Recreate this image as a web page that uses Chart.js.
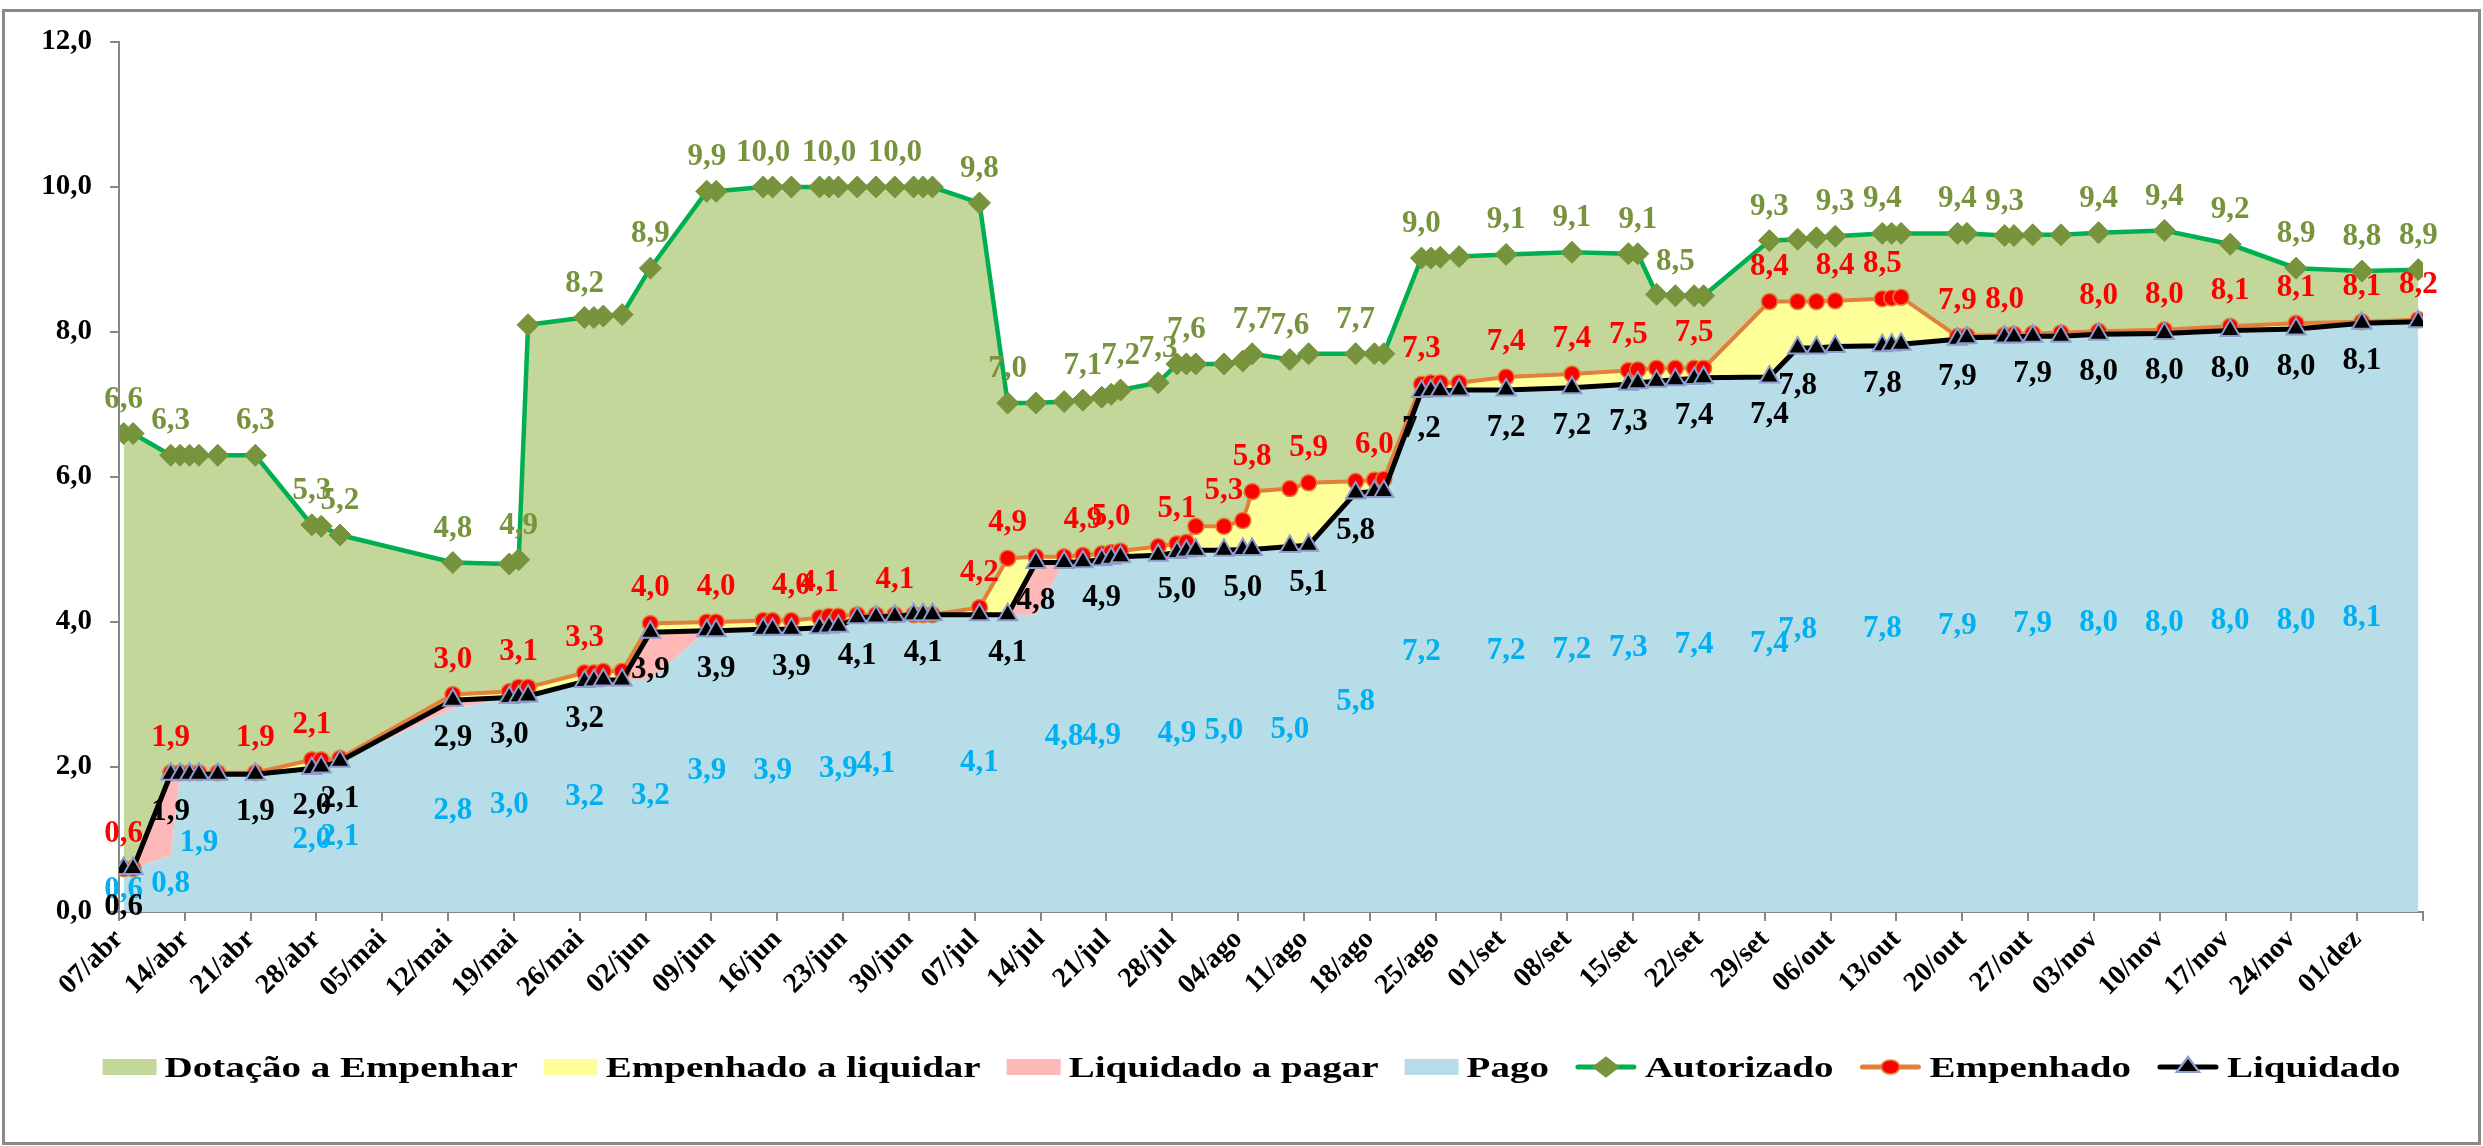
<!DOCTYPE html>
<html>
<head>
<meta charset="utf-8">
<script src="https://cdn.jsdelivr.net/npm/chart.js@4.4.1/dist/chart.umd.min.js"></script>
<style>
html,body{margin:0;padding:0;background:#fff;overflow:hidden}
#wrap{width:2483px;height:1146px;position:relative}
</style>
</head>
<body>
<div id="wrap"><canvas id="c"></canvas></div>
<script>
// ---- Dados ----
const rotulosX = ['07/abr','14/abr','21/abr','28/abr','05/mai','12/mai','19/mai','26/mai','02/jun','09/jun','16/jun','23/jun','30/jun','07/jul','14/jul','21/jul','28/jul','04/ago','11/ago','18/ago','25/ago','01/set','08/set','15/set','22/set','29/set','06/out','13/out','20/out','27/out','03/nov','10/nov','17/nov','24/nov','01/dez'];
const rotulosY = [0, 2, 4, 6, 8, 10, 12];

// dias contados a partir de 07/abr
const dias = [0,1,5,6,7,8,10,14,20,21,23,35,41,42,43,49,50,51,53,56,62,63,68,69,71,74,75,76,78,80,82,84,85,86,91,94,97,100,102,104,105,106,110,112,113,114,117,119,120,124,126,131,133,134,138,139,140,142,147,154,160,161,163,165,167,168,175,178,180,182,187,188,189,195,196,200,201,203,206,210,217,224,231,238,244];

const autorizado = [
6.6,6.6,6.3,6.3,6.3,6.3,6.3,6.3,5.34,5.32,5.2,
4.82,4.8,4.86,8.1,
8.2,8.2,8.22,8.24,
8.88,
9.94,9.94,
10.0,10.0,10.0,
10.0,10.0,10.0,10.0,10.0,10.0,10.0,10.0,10.0,
9.78,7.02,7.02,7.04,7.06,7.1,7.14,7.2,
7.3,7.56,7.56,7.56,
7.56,7.6,7.7,
7.62,7.7,
7.7,7.7,7.7,
9.02,9.02,9.03,9.04,
9.07,9.1,
9.08,9.08,8.52,8.5,8.5,8.5,
9.26,9.28,9.3,9.32,
9.36,9.36,9.36,
9.36,9.36,
9.33,9.33,9.34,9.34,
9.37,9.4,9.21,8.88,8.84,8.86];

const empenhado = [
0.6,0.6,1.92,1.92,1.92,1.92,1.92,1.92,2.1,2.1,2.12,
3.0,3.04,3.1,3.1,
3.3,3.3,3.32,3.32,
3.98,
4.0,4.0,
4.02,4.02,4.02,
4.06,4.08,4.08,4.1,4.1,4.1,4.1,4.1,4.1,
4.2,4.88,4.9,4.9,4.92,4.94,4.96,4.98,
5.04,5.08,5.1,5.32,
5.32,5.4,5.8,
5.84,5.92,
5.94,5.96,5.97,
7.28,7.3,7.3,7.3,
7.38,7.42,
7.47,7.48,7.5,7.5,7.5,7.5,
8.42,8.42,8.42,8.43,
8.46,8.47,8.48,
7.94,7.95,
7.96,7.97,7.98,7.99,
8.01,8.03,8.08,8.12,8.14,8.17];

const liquidado = [
0.6,0.6,1.9,1.9,1.9,1.9,1.9,1.9,1.98,2.0,2.08,
2.92,2.96,2.97,2.98,
3.18,3.19,3.2,3.2,
3.86,
3.88,3.88,
3.9,3.9,3.9,
3.92,3.93,3.94,4.06,4.07,4.08,4.1,4.1,4.1,
4.1,4.1,4.82,4.82,4.83,4.86,4.88,4.9,
4.92,4.96,4.98,4.99,
4.99,5.0,5.0,
5.04,5.06,
5.78,5.8,5.8,
7.18,7.19,7.19,7.2,
7.2,7.23,
7.28,7.3,7.32,7.34,7.36,7.37,
7.38,7.78,7.78,7.8,
7.81,7.82,7.83,
7.9,7.92,
7.93,7.93,7.94,7.94,
7.97,7.98,8.02,8.04,8.12,8.14];

const pago = [
0.6,0.6,0.78,1.9,1.9,1.9,1.9,1.9,1.98,2.0,2.08,
2.8,2.96,2.97,2.98,
3.18,3.19,3.2,3.2,
3.2,
3.88,3.88,
3.9,3.9,3.9,
3.92,3.93,3.94,4.06,4.07,4.08,4.1,4.1,4.1,
4.1,4.1,4.1,4.82,4.83,4.86,4.88,4.9,
4.92,4.92,4.94,4.98,
4.99,5.0,5.0,
5.02,5.06,
5.78,5.8,5.8,
7.18,7.19,7.19,7.2,
7.2,7.22,
7.27,7.28,7.3,7.32,7.36,7.37,
7.38,7.78,7.78,7.8,
7.81,7.82,7.83,
7.9,7.92,
7.93,7.93,7.94,7.94,
7.97,7.98,8.02,8.04,8.12,8.14];

// ---- Estilos ----
const COR = {
  dotacao: '#c4d79b', empLiq: '#ffff99', liqPagar: '#ffb8b8', pago: '#b7dee8',
  autorizado: '#00b050', autMarc: '#77933c',
  empenhado: '#e2803a', empMarc: '#ff0000',
  liquidado: '#000000', liqMarc: '#000000', liqBorda: '#8e9ccc',
  rotAut: '#77933c', rotEmp: '#ff0000', rotLiq: '#000000', rotPago: '#00b0f0'
};
const FAMILIA = '"Liberation Serif", "Times New Roman", serif';
const fmt = v => v.toFixed(1).replace('.', ',');
const serie = arr => dias.map((d, i) => ({x: d + 0.5, y: arr[i]}));

const areaBase = {type: 'line', pointRadius: 0, pointHoverRadius: 0, borderWidth: 0, tension: 0, order: 10};

const datasets = [
  Object.assign({}, areaBase, {label: 'Pago', data: serie(pago), fill: 'origin', backgroundColor: COR.pago, borderColor: COR.pago, rotulo: {pos: 'meio', cor: COR.rotPago}, legenda: {tipo: 'caixa'}}),
  Object.assign({}, areaBase, {label: 'Liquidado a pagar', data: serie(liquidado), fill: '-1', backgroundColor: COR.liqPagar, borderColor: COR.liqPagar, legenda: {tipo: 'caixa'}}),
  Object.assign({}, areaBase, {label: 'Empenhado a liquidar', data: serie(empenhado), fill: '-1', backgroundColor: COR.empLiq, borderColor: COR.empLiq, legenda: {tipo: 'caixa'}}),
  Object.assign({}, areaBase, {label: 'Dotação a Empenhar', data: serie(autorizado), fill: '-1', backgroundColor: COR.dotacao, borderColor: COR.dotacao, legenda: {tipo: 'caixa'}}),
  {type: 'line', label: 'Autorizado', data: serie(autorizado), fill: false, tension: 0, order: 3,
   borderColor: COR.autorizado, borderWidth: 4.5, pointStyle: 'rectRot', pointRadius: 11, pointBorderWidth: 1,
   pointBackgroundColor: COR.autMarc, pointBorderColor: COR.autMarc,
   rotulo: {pos: 'acima', dy: -34, cor: COR.rotAut}, legenda: {tipo: 'linha'}},
  {type: 'line', label: 'Empenhado', data: serie(empenhado), fill: false, tension: 0, order: 2,
   borderColor: COR.empenhado, borderWidth: 4, pointStyle: 'circle', pointRadius: 8, pointBorderWidth: 1.5,
   pointBackgroundColor: COR.empMarc, pointBorderColor: COR.empenhado,
   rotulo: {pos: 'acima', dy: -35, cor: COR.rotEmp}, legenda: {tipo: 'linha'}},
  {type: 'line', label: 'Liquidado', data: serie(liquidado), fill: false, tension: 0, order: 1,
   borderColor: COR.liquidado, borderWidth: 5, pointStyle: 'triangle', pointRadius: 11, pointBorderWidth: 2,
   pointBackgroundColor: COR.liqMarc, pointBorderColor: COR.liqBorda,
   rotulo: {pos: 'abaixo', dy: 38, cor: COR.rotLiq}, legenda: {tipo: 'linha'}}
];

// ---- Plugins ----
const moldura = {
  id: 'moldura',
  beforeDraw(chart) {
    const c = chart.ctx;
    c.save(); c.fillStyle = '#fff'; c.fillRect(0, 0, chart.width, chart.height); c.restore();
  },
  afterDraw(chart) {
    const c = chart.ctx;
    c.save(); c.strokeStyle = '#8a8a8a'; c.lineWidth = 3;
    c.strokeRect(3.5, 10.5, chart.width - 7, chart.height - 13);
    c.restore();
  }
};

// rótulos de dados; rótulos repetidos muito próximos são omitidos
const rotulos = {
  id: 'rotulos',
  afterDatasetsDraw(chart) {
    const c = chart.ctx;
    const y0 = chart.scales.y.getPixelForValue(0);
    c.save();
    c.font = 'bold 31px ' + FAMILIA;
    c.textAlign = 'center';
    c.textBaseline = 'middle';
    chart.data.datasets.forEach((ds, di) => {
      const cfg = ds.rotulo;
      if (!cfg) return;
      const meta = chart.getDatasetMeta(di);
      c.fillStyle = cfg.cor;
      let lastX = -1e9, lastT = '';
      meta.data.forEach((pt, i) => {
        const t = fmt(ds.data[i].y);
        const dx = pt.x - lastX;
        if ((t === lastT && dx < 58) || dx < 24) return;
        const y = cfg.pos === 'meio' ? (pt.y + y0) / 2 : pt.y + cfg.dy;
        c.fillText(t, pt.x, y);
        lastX = pt.x; lastT = t;
      });
    });
    c.restore();
  }
};

const legenda = {
  id: 'legendaPropria',
  afterDraw(chart) {
    const c = chart.ctx;
    const ordem = [3, 2, 1, 0, 4, 5, 6];
    const sx = 1.3, gapIn = 8, gapOut = 26, wCaixa = 54, wLinha = 62;
    const base = chart.height - 69;
    const yc = base - 10;
    c.save();
    c.font = 'bold 30px ' + FAMILIA;
    const itens = ordem.map(i => {
      const ds = chart.data.datasets[i];
      const wm = ds.legenda.tipo === 'caixa' ? wCaixa : wLinha;
      return {ds, wm, wt: c.measureText(ds.label).width * sx};
    });
    const total = itens.reduce((s, it) => s + it.wm + gapIn + it.wt, 0) + gapOut * (itens.length - 1);
    let x = chart.width / 2 - total / 2 + 10;
    itens.forEach(it => {
      const ds = it.ds;
      if (ds.legenda.tipo === 'caixa') {
        c.fillStyle = ds.backgroundColor;
        c.fillRect(x, yc - 8, wCaixa, 16);
      } else {
        c.strokeStyle = ds.borderColor;
        c.lineWidth = 5;
        c.lineCap = 'round';
        c.beginPath(); c.moveTo(x + 3, yc); c.lineTo(x + wLinha - 3, yc); c.stroke();
        c.save();
        c.translate(x + wLinha / 2, yc);
        c.scale(1.3, 1);
        c.fillStyle = ds.pointBackgroundColor;
        c.strokeStyle = ds.pointBorderColor;
        c.lineWidth = ds.pointBorderWidth;
        Chart.helpers.drawPoint(c, {pointStyle: ds.pointStyle, radius: ds.pointRadius - 1, borderWidth: ds.pointBorderWidth, rotation: 0}, 0, 0);
        c.restore();
      }
      x += it.wm + gapIn;
      c.save();
      c.translate(x, base);
      c.scale(sx, 1);
      c.fillStyle = '#000';
      c.textAlign = 'left';
      c.textBaseline = 'alphabetic';
      c.fillText(ds.label, 0, 0);
      c.restore();
      x += it.wt + gapOut;
    });
    c.restore();
  }
};

Chart.defaults.font.family = FAMILIA;

new Chart(document.getElementById('c'), {
  type: 'line',
  data: {datasets},
  options: {
    responsive: true,
    maintainAspectRatio: false,
    animation: false,
    events: [],
    layout: {padding: {top: 42, right: 60, bottom: 144, left: 0}},
    plugins: {legend: {display: false}, tooltip: {enabled: false}},
    scales: {
      x: {
        type: 'linear', min: 0, max: 245,
        afterFit(s) { s.height = 90; },
        grid: {drawOnChartArea: false, color: '#868686', lineWidth: 2, tickLength: 9},
        border: {color: '#868686', width: 2},
        ticks: {
          stepSize: 7, autoSkip: false, minRotation: 45, maxRotation: 45, padding: 2,
          color: '#000', font: {size: 28, weight: 'bold', family: FAMILIA},
          callback: v => rotulosX[Math.round(v / 7)] || ''
        }
      },
      y: {
        min: rotulosY[0], max: rotulosY[rotulosY.length - 1],
        afterFit(s) { s.width = 119; },
        grid: {drawOnChartArea: false, color: '#868686', lineWidth: 2, tickLength: 9},
        border: {color: '#868686', width: 2},
        ticks: {
          stepSize: 2, padding: 18, color: '#000',
          font: {size: 29, weight: 'bold', family: FAMILIA},
          callback: v => fmt(v)
        }
      }
    }
  },
  plugins: [moldura, rotulos, legenda]
});
</script>
</body>
</html>
